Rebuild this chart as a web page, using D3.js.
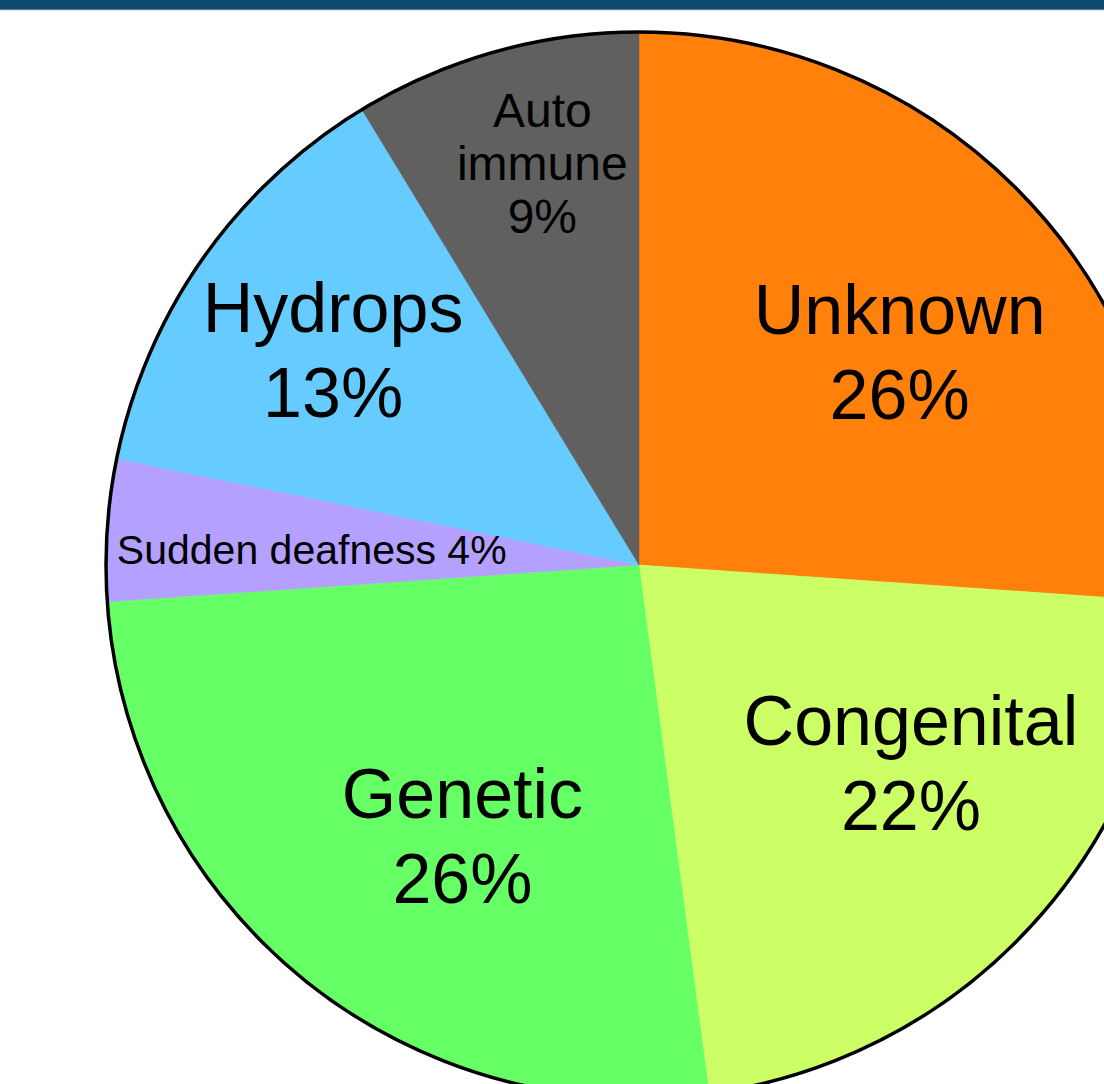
<!DOCTYPE html>
<html>
<head>
<meta charset="utf-8">
<script src="https://cdn.jsdelivr.net/npm/d3@7"></script>
<style>
  body { margin: 0; background: #fff; }
  svg { display: block; font-family: "Liberation Sans", Arial, sans-serif; }
</style>
</head>
<body>
<svg id="chart"></svg>
<script>
// slice data, clockwise from 12 o'clock (shares)
const categories = ['Unknown', 'Congenital', 'Genetic', 'Sudden deafness', 'Hydrops', 'Auto immune'];
const values = [26.1, 21.8, 26.0, 4.3, 13.1, 8.7];
const colors = ['#ff800a', '#ccff66', '#66ff66', '#b3a0ff', '#66ccff', '#606060'];

// how each label is laid out (lines, font size, nudge from the centroid)
const labelLayout = {
  'Unknown':         { lines: ['Unknown'],        size: 70, lh: 85, dx: 15, dy: 16 },
  'Congenital':      { lines: ['Congenital'],     size: 70, lh: 85, dx: 27, dy: -33 },
  'Genetic':         { lines: ['Genetic'],        size: 70, lh: 85, dx: 36, dy: 10 },
  'Sudden deafness': { lines: [],                 size: 41, lh: 0,  dx: 8,  dy: 6, inline: true },
  'Hydrops':         { lines: ['Hydrops'],        size: 70, lh: 85, dx: -31, dy: -23 },
  'Auto immune':     { lines: ['Auto', 'immune'], size: 48, lh: 53, dx: -6, dy: -79 }
};

const width = 1104, height = 1084;
const cx = 639, cy = 565, radius = 533;

const svg = d3.select('#chart')
  .attr('width', width)
  .attr('height', height);

const data = categories.map((c, i) => ({ name: c, value: values[i], color: colors[i] }));

const pie = d3.pie().sort(null).value(d => d.value);
const arc = d3.arc().innerRadius(0).outerRadius(radius);
const labelArc = d3.arc().innerRadius(336).outerRadius(336);

const g = svg.append('g').attr('transform', `translate(${cx},${cy})`);

g.selectAll('path.slice')
  .data(pie(data))
  .enter().append('path')
  .attr('class', 'slice')
  .attr('d', arc)
  .attr('fill', d => d.data.color)
  .attr('stroke', d => d.data.color)
  .attr('stroke-width', 0.5);

g.append('circle')
  .attr('r', radius)
  .attr('fill', 'none')
  .attr('stroke', '#000')
  .attr('stroke-width', 3.5);

// labels (percentages shown rounded, as on the original)
g.selectAll('text.label')
  .data(pie(data))
  .enter().append('text')
  .attr('class', 'label')
  .attr('text-anchor', 'middle')
  .attr('fill', '#000')
  .each(function (d) {
    const lay = labelLayout[d.data.name];
    const [x0, y0] = labelArc.centroid(d);
    const x = x0 + lay.dx, y = y0 + lay.dy;
    const pct = Math.round(d.data.value) + '%';
    const lines = lay.inline ? [d.data.name + ' ' + pct] : lay.lines.concat([pct]);
    const capH = 0.72 * lay.size;
    const b1 = y - ((lines.length - 1) * lay.lh - capH) / 2;
    const t = d3.select(this).attr('font-size', lay.size);
    lines.forEach((line, i) => {
      t.append('tspan').attr('x', x).attr('y', b1 + i * lay.lh).text(line);
    });
  });

// header strip along the top
svg.append('rect')
  .attr('x', 0).attr('y', 0)
  .attr('width', width).attr('height', 9)
  .attr('fill', '#0b4a6d');
svg.append('rect')
  .attr('x', 0).attr('y', 9)
  .attr('width', width).attr('height', 1.2)
  .attr('fill', '#5a8499');
</script>
</body>
</html>
